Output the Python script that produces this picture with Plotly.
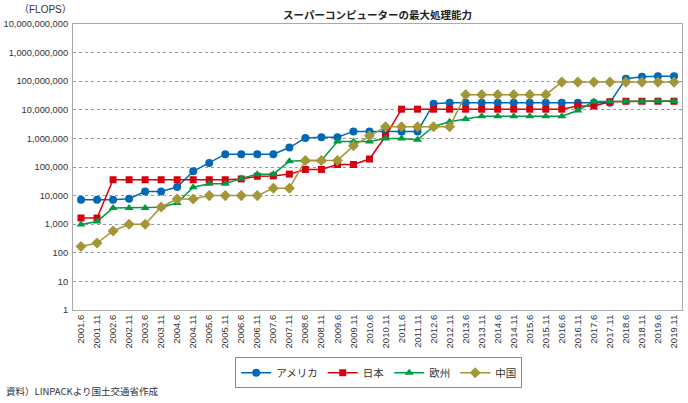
import plotly.graph_objects as go

# Categories (TOP500 list dates)
periods = [
    "2001.6", "2001.11", "2002.6", "2002.11", "2003.6", "2003.11", "2004.6", "2004.11",
    "2005.6", "2005.11", "2006.6", "2006.11", "2007.6", "2007.11", "2008.6", "2008.11",
    "2009.6", "2009.11", "2010.6", "2010.11", "2011.6", "2011.11", "2012.6", "2012.11",
    "2013.6", "2013.11", "2014.6", "2014.11", "2015.6", "2015.11", "2016.6", "2016.11",
    "2017.6", "2017.11", "2018.6", "2018.11", "2019.6", "2019.11",
]

# Values
usa = [7226, 7226, 7226, 7727, 13880, 13880, 19940, 70720,
       136800, 280600, 280600, 280600, 280600, 478200, 1026000, 1105000,
       1105000, 1759000, 1759000, 1759000, 1759000, 1759000, 16324750, 17590000,
       17590000, 17590000, 17590000, 17590000, 17590000, 17590000, 17590000, 17590000,
       17590000, 17590000, 122300000, 143500000, 148600000, 148600000]
japan = [1650, 1650, 35860, 35860, 35860, 35860, 35860, 35860,
         35860, 35860, 38180, 47380, 48880, 56430, 82000, 82000,
         122400, 122400, 190000, 1192000, 10510000, 10510000, 10510000, 10510000,
         10510000, 10510000, 10510000, 10510000, 10510000, 10510000, 10510000, 13554600,
         13554600, 19135800, 19880000, 19880000, 19880000, 19880000]
europe = [980, 1250, 3700, 3700, 3700, 3900, 5500, 19500,
          26000, 26000, 40000, 56000, 56000, 160000, 170000, 170000,
          780000, 780000, 780000, 1000000, 1000000, 900000, 2600000, 3800000,
          4800000, 6000000, 6000000, 6000000, 6000000, 6000000, 6000000, 9500000,
          19590000, 19590000, 19590000, 19590000, 20500000, 20500000]
china = [167, 220, 580, 1000, 1000, 4000, 7600, 7600,
         10000, 10000, 10000, 10000, 18000, 18000, 170000, 170000,
         170000, 550000, 1230000, 2566000, 2566000, 2566000, 2566000, 2566000,
         33860000, 33860000, 33860000, 33860000, 33860000, 33860000, 93010000, 93010000,
         93010000, 93010000, 93010000, 93010000, 93010000, 93010000]

series = [
    ("アメリカ", usa, "#0068b7", "circle", 8),
    ("日本", japan, "#d7000f", "square", 7),
    ("欧州", europe, "#009944", "triangle-up", 8),
    ("中国", china, "#a39637", "diamond", 8.5),
]

font_jp = "Noto Sans CJK JP"
tick_font = "Liberation Sans, Noto Sans CJK JP"

fig = go.Figure()
for name, vals, color, symbol, size in series:
    fig.add_trace(go.Scatter(
        x=periods, y=vals, name=name, mode="lines+markers",
        line=dict(color=color, width=1.5),
        marker=dict(symbol=symbol, size=size, color=color),
    ))

yvals = [10 ** k for k in range(11)]
ytext = [f"{v:,}" for v in yvals]

fig.update_layout(
    width=688, height=403,
    margin=dict(l=73, r=6, t=24, b=93, autoexpand=False),
    paper_bgcolor="white", plot_bgcolor="white",
    font=dict(family=font_jp, size=11, color="#333"),
    title=dict(text="<b>スーパーコンピューターの最大処理能力</b>",
               x=(73 + 682) / 2 / 688, xanchor="center",
               y=1 - 15 / 403, yanchor="middle",
               font=dict(size=10.5, color="#222")),
    showlegend=True,
    legend=dict(orientation="h", x=0.502, xanchor="center", y=-0.165, yanchor="top",
                bordercolor="#888", borderwidth=1, font=dict(size=10.5),
                itemwidth=30, tracegroupgap=0),
    xaxis=dict(type="category", tickangle=-90, showgrid=False, automargin=False,
               range=[-0.5, len(periods) - 0.5],
               showline=True, linecolor="#aaa", mirror=True, ticks="",
               tickfont=dict(family=tick_font, size=9.5, color="#333")),
    yaxis=dict(type="log", range=[0, 10], tickvals=yvals, ticktext=ytext,
               showgrid=True, gridcolor="#999", griddash="dot", gridwidth=1,
               showline=True, linecolor="#aaa", mirror=True, ticks="",
               zeroline=False, automargin=False, ticklabelstandoff=2,
               tickfont=dict(family=tick_font, size=9.3, color="#333")),
    annotations=[
        dict(text="（FLOPS）", xref="paper", yref="paper", x=-0.045, y=1.05,
             xanchor="center", yanchor="middle", showarrow=False,
             font=dict(family=tick_font, size=10, color="#333")),
        dict(text="資料）LINPACKより国土交通省作成", xref="paper", yref="paper",
             x=-0.113, y=-0.283, xanchor="left", yanchor="middle", showarrow=False,
             font=dict(family=font_jp, size=9.5, color="#333")),
    ],
)

# remove the default page margin so the 688x403 figure fills the window
fig.write_html("out.html", config={"displayModeBar": False},
               post_script="document.body.style.margin='0';document.body.style.overflow='hidden';")
